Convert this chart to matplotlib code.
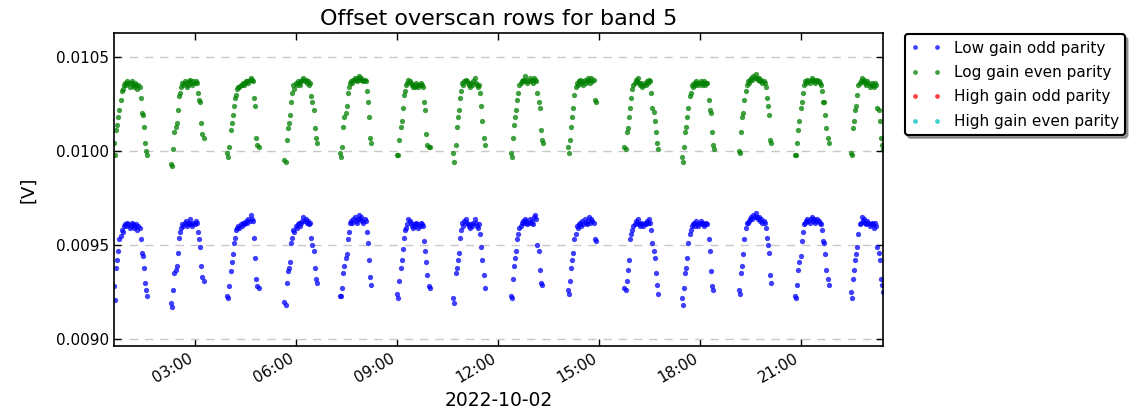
import numpy as np
import pandas as pd
import matplotlib
matplotlib.use('Agg')
import matplotlib.pyplot as plt
import matplotlib.dates as mdates
from matplotlib.ticker import FormatStrFormatter

# 各轨道段的起始时间（2022-10-02）
day = '2022-10-02'
cycle_starts = ['00:35', '02:17', '03:57', '05:39', '07:18', '09:00', '10:40',
                '12:22', '14:04', '15:45', '17:27', '19:09', '20:49', '22:28']

# 段内采样时间（分钟）
offsets_min = [0, 2, 4, 6, 8, 10, 12, 14, 16, 18, 20, 22, 24, 26, 28, 30,
               32, 34, 36, 38, 40, 42, 44, 46, 48, 50, 52, 54, 56, 58, 60]

# Log gain even parity，单位 mV
green_mv = [
    [10.04, 9.98, 10.11, 10.14, 10.18, 10.22, 10.27, 10.32, 10.33, 10.35, 10.36, 10.35, 10.37, 10.36, 10.34, 10.36,
     10.37, 10.35, 10.34, 10.36, 10.35, 10.33, 10.35, 10.34, 10.28, 10.20, 10.19, 10.13, 10.04, 10.00, 9.98],
    [9.93, 9.92, 10.01, 10.10, 10.13, 10.15, 10.22, 10.29, 10.31, 10.34, 10.36, 10.35, 10.37, 10.36, 10.34, 10.35,
     10.37, 10.38, 10.36, 10.35, 10.37, 10.36, 10.37, 10.36, 10.31, 10.27, 10.26, 10.15, 10.09, 10.07],
    [9.99, 9.97, 10.02, 10.11, 10.15, 10.19, 10.24, 10.28, 10.30, 10.33, 10.34, 10.34, 10.35, 10.35, 10.36, 10.35,
     10.36, 10.37, 10.37, 10.36, 10.38, 10.39, 10.38, 10.37, 10.28, 10.24, 10.07, 10.03, 10.02],
    [9.95, 9.94, 10.06, 10.12, 10.15, 10.19, 10.26, 10.31, 10.35, 10.33, 10.36, 10.35, 10.37, 10.36, 10.35, 10.37,
     10.38, 10.39, 10.37, 10.38, 10.36, 10.37, 10.35, 10.36, 10.29, 10.26, 10.22, 10.12, 10.07, 10.04],
    [9.99, 9.97, 10.02, 10.13, 10.18, 10.20, 10.24, 10.31, 10.34, 10.36, 10.37, 10.36, 10.38, 10.39, 10.38, 10.37,
     10.39, 10.40, 10.38, 10.39, 10.38, 10.37, 10.38, 10.37, 10.32, 10.26, 10.18, 10.07, 10.04],
    [9.98, 9.98, 10.06, 10.13, 10.16, 10.23, 10.30, 10.32, 10.35, 10.36, 10.38, 10.37, 10.36, 10.35, 10.34, 10.35,
     10.34, 10.36, 10.35, 10.34, 10.35, 10.36, 10.35, 10.34, 10.26, 10.22, 10.09, 10.03, 10.02, 10.02],
    [9.99, 9.94, 10.03, 10.13, 10.18, 10.22, 10.28, 10.32, 10.36, 10.35, 10.37, 10.38, 10.37, 10.36, 10.35, 10.34,
     10.36, 10.35, 10.37, 10.39, 10.36, 10.35, 10.34, 10.35, 10.31, 10.24, 10.16, 10.07, 10.03],
    [9.99, 9.97, 10.07, 10.14, 10.18, 10.22, 10.27, 10.31, 10.35, 10.36, 10.37, 10.38, 10.37, 10.40, 10.38, 10.36,
     10.37, 10.39, 10.37, 10.38, 10.36, 10.39, 10.38, 10.37, 10.31, 10.26, 10.23, 10.11, 10.06, 10.04],
    [10.02, 9.99, 10.06, 10.13, 10.18, 10.23, 10.30, 10.34, 10.36, 10.35, 10.37, 10.38, 10.36, 10.37, 10.35, 10.38,
     10.36, 10.37, 10.39, 10.38, 10.36, 10.39, 10.37, 10.38, 10.27, 10.26],
    [10.02, 10.01, 10.10, 10.12, 10.18, 10.23, 10.28, 10.33, 10.35, 10.36, 10.38, 10.37, 10.39, 10.36, 10.35, 10.36,
     10.34, 10.35, 10.36, 10.35, 10.37, 10.36, 10.38, 10.37, 10.31, 10.23, 10.21, 10.16, 10.10, 10.04, 10.01],
    [9.97, 9.94, 10.02, 10.10, 10.13, 10.18, 10.23, 10.29, 10.31, 10.35, 10.34, 10.36, 10.35, 10.37, 10.36, 10.35,
     10.36, 10.37, 10.35, 10.36, 10.37, 10.35, 10.36, 10.36, 10.27, 10.22, 10.20, 10.10, 10.03, 10.01],
    [10.00, 9.99, 10.10, 10.18, 10.20, 10.27, 10.32, 10.35, 10.37, 10.36, 10.38, 10.39, 10.38, 10.40, 10.39, 10.41,
     10.39, 10.38, 10.39, 10.37, 10.38, 10.36, 10.37, 10.36, 10.34, 10.28, 10.24, 10.19, 10.06, 10.04],
    [9.98, 9.98, 10.04, 10.11, 10.16, 10.23, 10.26, 10.31, 10.35, 10.37, 10.36, 10.38, 10.37, 10.36, 10.38, 10.39,
     10.37, 10.38, 10.36, 10.37, 10.38, 10.37, 10.36, 10.35, 10.32, 10.26, 10.26, 10.19, 10.12, 10.07, 10.04],
    [9.99, 9.98, 10.12, 10.16, 10.22, 10.24, 10.30, 10.35, 10.36, 10.37, 10.39, 10.37, 10.38, 10.36, 10.35, 10.37,
     10.36, 10.34, 10.35, 10.36, 10.35, 10.34, 10.36, 10.35, 10.23, 10.22, 10.16, 10.07, 10.03, 10.01],
]

# Low gain odd parity，单位 mV
blue_mv = [
    [9.28, 9.21, 9.38, 9.42, 9.47, 9.53, 9.55, 9.58, 9.57, 9.60, 9.61, 9.60, 9.62, 9.61, 9.59, 9.60,
     9.62, 9.61, 9.59, 9.60, 9.61, 9.58, 9.60, 9.59, 9.53, 9.46, 9.44, 9.38, 9.30, 9.26, 9.23],
    [9.19, 9.17, 9.26, 9.35, 9.37, 9.39, 9.46, 9.54, 9.57, 9.59, 9.61, 9.60, 9.62, 9.63, 9.60, 9.61,
     9.62, 9.64, 9.61, 9.60, 9.62, 9.61, 9.63, 9.62, 9.57, 9.53, 9.49, 9.39, 9.33, 9.31],
    [9.23, 9.22, 9.28, 9.36, 9.41, 9.45, 9.51, 9.54, 9.58, 9.59, 9.60, 9.59, 9.61, 9.60, 9.62, 9.61,
     9.62, 9.63, 9.62, 9.64, 9.63, 9.66, 9.64, 9.63, 9.54, 9.43, 9.32, 9.28, 9.27],
    [9.20, 9.18, 9.30, 9.36, 9.38, 9.41, 9.51, 9.54, 9.58, 9.57, 9.60, 9.59, 9.61, 9.62, 9.60, 9.62,
     9.63, 9.65, 9.63, 9.64, 9.62, 9.63, 9.61, 9.62, 9.54, 9.50, 9.47, 9.38, 9.32, 9.30],
    [9.23, 9.23, 9.27, 9.35, 9.39, 9.43, 9.45, 9.53, 9.57, 9.62, 9.63, 9.62, 9.64, 9.65, 9.63, 9.62,
     9.64, 9.66, 9.64, 9.65, 9.63, 9.62, 9.64, 9.63, 9.57, 9.51, 9.42, 9.33, 9.29],
    [9.24, 9.22, 9.31, 9.38, 9.42, 9.48, 9.54, 9.58, 9.59, 9.61, 9.64, 9.63, 9.62, 9.60, 9.59, 9.61,
     9.60, 9.62, 9.61, 9.59, 9.60, 9.62, 9.61, 9.60, 9.52, 9.47, 9.41, 9.34, 9.28, 9.27],
    [9.22, 9.19, 9.35, 9.38, 9.42, 9.46, 9.54, 9.58, 9.62, 9.60, 9.63, 9.64, 9.62, 9.61, 9.60, 9.59,
     9.61, 9.60, 9.62, 9.64, 9.62, 9.60, 9.59, 9.61, 9.56, 9.49, 9.42, 9.34, 9.27],
    [9.23, 9.22, 9.32, 9.39, 9.43, 9.47, 9.53, 9.56, 9.59, 9.60, 9.62, 9.63, 9.62, 9.64, 9.63, 9.61,
     9.62, 9.64, 9.62, 9.63, 9.61, 9.65, 9.66, 9.64, 9.50, 9.47, 9.37, 9.30, 9.29],
    [9.26, 9.24, 9.31, 9.38, 9.42, 9.46, 9.53, 9.56, 9.60, 9.59, 9.61, 9.62, 9.60, 9.63, 9.61, 9.64,
     9.62, 9.61, 9.63, 9.65, 9.62, 9.64, 9.63, 9.62, 9.53, 9.52],
    [9.27, 9.26, 9.31, 9.37, 9.42, 9.53, 9.56, 9.58, 9.60, 9.61, 9.63, 9.62, 9.64, 9.61, 9.60, 9.62,
     9.61, 9.60, 9.62, 9.61, 9.63, 9.62, 9.64, 9.62, 9.58, 9.51, 9.47, 9.43, 9.35, 9.29, 9.24],
    [9.22, 9.18, 9.27, 9.35, 9.38, 9.43, 9.51, 9.56, 9.58, 9.60, 9.61, 9.62, 9.60, 9.63, 9.61, 9.60,
     9.62, 9.63, 9.61, 9.62, 9.60, 9.61, 9.62, 9.61, 9.53, 9.47, 9.36, 9.28, 9.26],
    [9.26, 9.24, 9.35, 9.39, 9.45, 9.53, 9.59, 9.62, 9.62, 9.63, 9.64, 9.65, 9.64, 9.66, 9.65, 9.67,
     9.65, 9.64, 9.65, 9.63, 9.64, 9.62, 9.63, 9.62, 9.59, 9.54, 9.50, 9.46, 9.34, 9.30],
    [9.23, 9.22, 9.29, 9.37, 9.41, 9.44, 9.52, 9.57, 9.61, 9.62, 9.63, 9.64, 9.63, 9.62, 9.64, 9.65,
     9.63, 9.64, 9.62, 9.63, 9.64, 9.63, 9.62, 9.61, 9.58, 9.52, 9.51, 9.45, 9.37, 9.32, 9.29],
    [9.25, 9.22, 9.32, 9.37, 9.42, 9.45, 9.49, 9.56, 9.61, 9.62, 9.65, 9.63, 9.64, 9.62, 9.61, 9.63,
     9.62, 9.60, 9.61, 9.62, 9.61, 9.59, 9.62, 9.60, 9.49, 9.46, 9.42, 9.32, 9.29, 9.25],
]

# High gain 两组在该时段无数据
red_mv = []
cyan_mv = []

labels = ['Low gain odd parity', 'Log gain even parity',
          'High gain odd parity', 'High gain even parity']
colors = ['b', 'g', 'r', 'c']


def build_series(rows):
    """把每段数据展开成时间戳和电压（V）"""
    times, values = [], []
    for start, row in zip(cycle_starts, rows):
        t0 = pd.Timestamp(f'{day} {start}')
        for off, v in zip(offsets_min, row):
            times.append(t0 + pd.Timedelta(minutes=off))
            values.append(v * 1e-3)
    return times, values


fig = plt.figure(figsize=(11.38, 4.16), dpi=100)
fig.subplots_adjust(left=0.100, right=0.776, bottom=0.168, top=0.921)
ax = fig.add_subplot(111)

all_times = []
for rows, color, label in zip([blue_mv, green_mv, red_mv, cyan_mv], colors, labels):
    t, v = build_series(rows)
    all_times += t
    ax.plot(t, v, 'o', color=color, markersize=3.8, markeredgewidth=0,
            alpha=0.75, label=label)

ax.set_xlim(min(all_times), max(all_times))
ax.set_ylim(0.008963, 0.010628)
ax.set_yticks([0.0090, 0.0095, 0.0100, 0.0105])
ax.yaxis.set_major_formatter(FormatStrFormatter('%.4f'))

ax.xaxis.set_major_locator(mdates.HourLocator(byhour=[3, 6, 9, 12, 15, 18, 21]))
ax.xaxis.set_major_formatter(mdates.DateFormatter('%H:%M'))
plt.setp(ax.get_xticklabels(), rotation=30, ha='right')

ax.tick_params(direction='in', top=True, right=True, length=5, width=1,
               labelsize=11)
for sp in ax.spines.values():
    sp.set_linewidth(1.2)

ax.yaxis.grid(True, linestyle=(0, (6, 5)), color='#c8c8c8', linewidth=1)
ax.set_axisbelow(True)

ax.set_title('Offset overscan rows for band 5', fontsize=16)
ax.set_ylabel('[V]', fontsize=13)
ax.yaxis.set_label_coords(-0.099, 0.5)
ax.set_xlabel(day, fontsize=13.5)

leg = ax.legend(loc='upper left', bbox_to_anchor=(1.028, 0.995), borderaxespad=0,
                numpoints=2, fontsize=11, shadow=True, fancybox=True,
                markerscale=0.9, handlelength=2.0, labelspacing=0.62)
leg.get_frame().set_edgecolor('black')
leg.get_frame().set_linewidth(1.5)

plt.savefig('out.png', dpi=100)
plt.close()
